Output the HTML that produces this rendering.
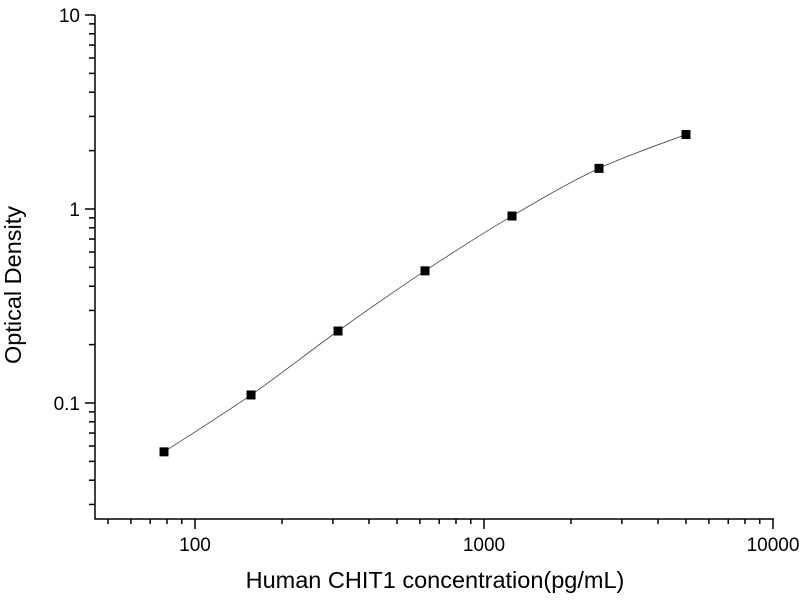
<!DOCTYPE html>
<html><head><meta charset="utf-8"><style>
html,body{margin:0;padding:0;background:#fff;}
svg{display:block;font-family:"Liberation Sans",Arial,sans-serif;}
</style></head><body>
<svg id="s" width="800" height="600" xmlns="http://www.w3.org/2000/svg">
<text x="435" y="588" font-size="23.5" text-anchor="middle">Human CHIT1 concentration(pg/mL)</text>
<text transform="translate(21,285) rotate(-90)" font-size="23.5" text-anchor="middle">Optical Density</text>
</svg>
<script>
const s=document.getElementById('s'),NS='http://www.w3.org/2000/svg';
const X=v=>195+(Math.log10(v)-2)*289, Y=v=>209-Math.log10(v)*194;
function el(t,a,txt){const e=document.createElementNS(NS,t);for(const k in a)e.setAttribute(k,a[k]);if(txt)e.textContent=txt;s.appendChild(e);return e;}
el('line',{x1:95,y1:15,x2:95,y2:519.5,stroke:'#000','stroke-width':1.5});
el('line',{x1:94.5,y1:519,x2:774,y2:519,stroke:'#000','stroke-width':1.5});
for(let d=-2;d<=1;d++)for(let m=1;m<10;m++){const v=m*Math.pow(10,d);const y=Y(v);if(y<14||y>519)continue;
 const maj=m==1;el('line',{x1:maj?85:89,y1:y,x2:95,y2:y,stroke:'#000','stroke-width':1.5});
 if(maj)el('text',{x:80,y:y+7,'font-size':19,'text-anchor':'end'},v==10?'10':v==1?'1':'0.1');}
for(let d=1;d<=4;d++)for(let m=1;m<10;m++){const v=m*Math.pow(10,d);const x=X(v);if(x<96||x>775)continue;
 const maj=m==1;el('line',{x1:x,y1:519,x2:x,y2:maj?529:524,stroke:'#000','stroke-width':1.5});
 if(maj)el('text',{x:x,y:551,'font-size':19,'text-anchor':'middle'},String(v));}
const xs=[78.125,156.25,312.5,625,1250,2500,5000],ys=[0.056,0.11,0.235,0.48,0.92,1.62,2.42];
const P=xs.map((x,i)=>[X(x),Y(ys[i])]);
let d='M'+P[0];
for(let i=0;i<P.length-1;i++){const p0=P[Math.max(i-1,0)],p1=P[i],p2=P[i+1],p3=P[Math.min(i+2,P.length-1)];
 const c1=[p1[0]+(p2[0]-p0[0])/6,p1[1]+(p2[1]-p0[1])/6],c2=[p2[0]-(p3[0]-p1[0])/6,p2[1]-(p3[1]-p1[1])/6];
 d+=' C'+c1+' '+c2+' '+p2;}
el('path',{d:d,fill:'none',stroke:'#444','stroke-width':0.8});
P.forEach(p=>el('rect',{x:p[0]-4.5,y:p[1]-4.5,width:9,height:9,fill:'#000'}));
</script>
</body></html>
